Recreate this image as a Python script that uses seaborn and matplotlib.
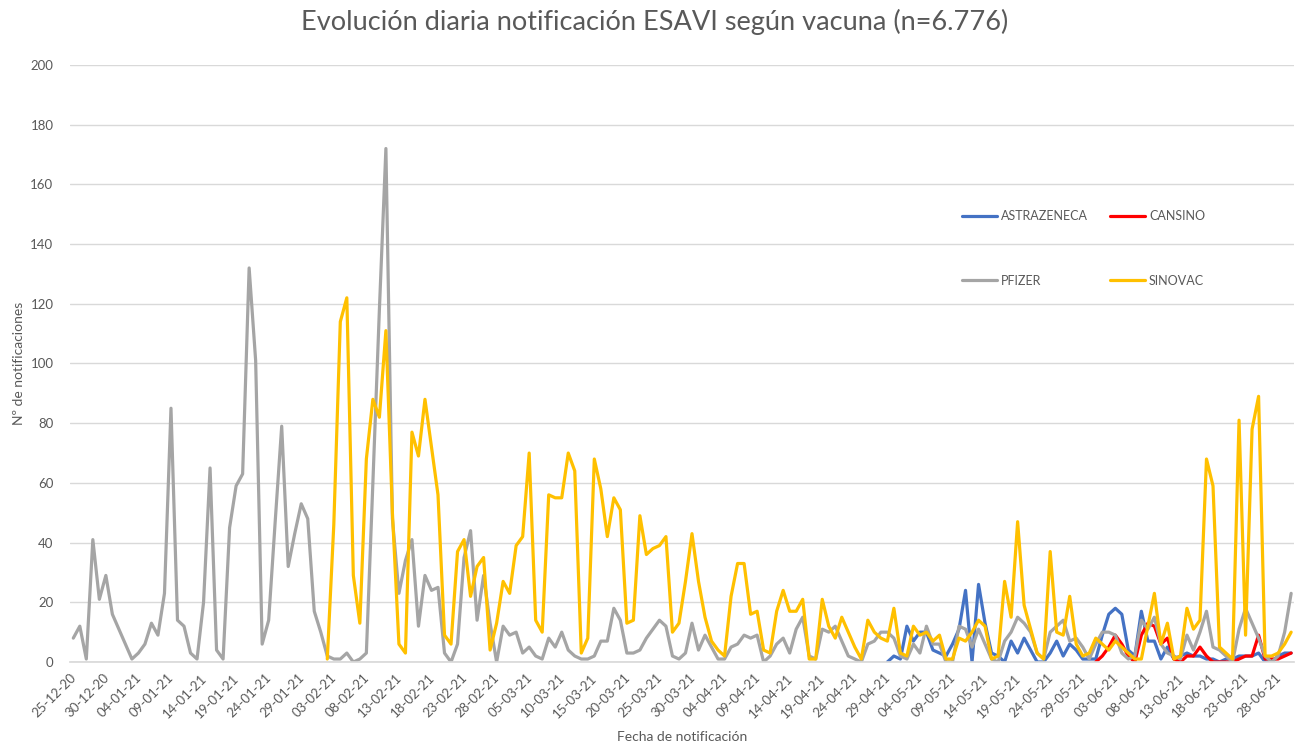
import numpy as np
import pandas as pd
import matplotlib.pyplot as plt
import seaborn as sns

# daily ESAVI notifications by vaccine, 25-12-2020 .. 30-06-2021
fechas = pd.date_range("2020-12-25", "2021-06-30", freq="D")

pfizer = [8, 12, 1, 41, 21, 29, 16, 11, 6, 1, 3, 6, 13, 9, 23, 85, 14, 12, 3, 1,
          20, 65, 4, 1, 45, 59, 63, 132, 101, 6, 14, 47, 79, 32, 43, 53, 48, 17, 10, 2,
          1, 1, 3, 0, 1, 3, 60, 118, 172, 48, 23, 34, 41, 12, 29, 24, 25, 3, 0, 6,
          35, 44, 14, 29, 13, 0, 12, 9, 10, 3, 5, 2, 1, 8, 5, 10, 4, 2, 1, 1,
          2, 7, 7, 18, 14, 3, 3, 4, 8, 11, 14, 12, 2, 1, 3, 13, 4, 9, 5, 1,
          1, 5, 6, 9, 8, 9, 0, 2, 6, 8, 3, 11, 15, 2, 1, 11, 10, 12, 7, 2,
          1, 0, 6, 7, 10, 10, 8, 2, 1, 6, 3, 12, 6, 6, 0, 0, 12, 11, 5, 11,
          6, 1, 0, 7, 10, 15, 13, 10, 3, 1, 10, 12, 14, 7, 8, 5, 1, 6, 10, 10,
          9, 3, 1, 2, 14, 11, 15, 6, 3, 2, 1, 9, 4, 10, 17, 5, 4, 2, 0, 11,
          18, 13, 8, 2, 0, 2, 10, 23]

# SINOVAC starts 02-02-2021 (day 39)
sinovac = [1, 46, 114, 122, 29, 13, 68, 88, 82, 111, 50, 6, 3, 77, 69, 88, 72, 56, 9, 6, 37,
           41, 22, 32, 35, 4, 13, 27, 23, 39, 42, 70, 14, 10, 56, 55, 55, 70, 64, 3, 8,
           68, 58, 42, 55, 51, 13, 14, 49, 36, 38, 39, 42, 10, 13, 27, 43, 27, 15, 7, 4,
           2, 22, 33, 33, 16, 17, 4, 3, 17, 24, 17, 17, 21, 1, 1, 21, 12, 8, 15, 10,
           5, 1, 14, 10, 8, 7, 18, 3, 2, 12, 9, 10, 7, 9, 1, 1, 8, 7, 10, 14,
           12, 1, 2, 27, 15, 47, 19, 11, 3, 1, 37, 10, 9, 22, 6, 2, 3, 8, 6, 4,
           7, 5, 3, 1, 1, 12, 23, 6, 13, 1, 2, 18, 11, 14, 68, 59, 5, 3, 1, 81,
           9, 78, 89, 2, 2, 3, 6, 10]

# ASTRAZENECA starts 29-04-2021 (day 125)
astrazeneca = [0, 2, 1, 12, 7, 10, 10, 4, 3, 2, 6, 11, 24, 0, 26,
               13, 3, 2, 0, 7, 3, 8, 4, 0, 0, 3, 7, 2, 6, 4, 1, 1, 1, 9, 16,
               18, 16, 4, 2, 17, 7, 7, 1, 5, 1, 2, 3, 2, 2, 1, 1, 0, 1, 1, 2,
               2, 2, 3, 0, 0, 2, 3, 3]

# CANSINO starts 31-05-2021 (day 157)
cansino = [0, 2, 5, 9, 6, 2, 0, 9, 13, 12, 6, 8, 1, 0, 2, 2, 5, 2, 0, 0,
           0, 0, 1, 2, 2, 9, 1, 1, 1, 2, 3]

vacunas = ["ASTRAZENECA", "CANSINO", "PFIZER", "SINOVAC"]
colores = ["#4472C4", "#FF0000", "#A5A5A5", "#FFC000"]

n = len(fechas)
series = {"ASTRAZENECA": astrazeneca, "CANSINO": cansino, "PFIZER": pfizer, "SINOVAC": sinovac}
frames = []
for v in vacunas:
    vals = series[v]
    start = n - len(vals)
    frames.append(pd.DataFrame({"dia": np.arange(start, n), "n": vals, "vacuna": v}))
df = pd.concat(frames, ignore_index=True)

sns.set_theme(style="white")
plt.rcParams["font.family"] = ["Lato", "DejaVu Sans"]
gris = "#595959"

fig = plt.figure(figsize=(12.97, 7.51), dpi=100)
ax = fig.add_axes([0.054, 0.1185, 0.944, 0.795])

sns.lineplot(data=df, x="dia", y="n", hue="vacuna", hue_order=vacunas,
             palette=colores, linewidth=2.3, ax=ax, legend=False)

ax.set_xlim(-0.5, n - 0.5)
ax.set_ylim(0, 200)
ax.set_yticks(range(0, 201, 20))
ax.yaxis.grid(True, color="#D9D9D9", linewidth=1)
ax.set_axisbelow(True)

pos = np.arange(0, n, 5)
ax.set_xticks(pos - 0.5)
ax.set_xticklabels([fechas[i].strftime("%d-%m-%y") for i in pos],
                   rotation=45, ha="right", rotation_mode="anchor")
ax.tick_params(axis="x", length=5, color="#D9D9D9", labelsize=9.5, labelcolor=gris, pad=2)
ax.tick_params(axis="y", length=0, labelsize=9.5, labelcolor=gris, pad=12)

for s in ["left", "top", "right"]:
    ax.spines[s].set_visible(False)
ax.spines["bottom"].set_color("#D9D9D9")

ax.set_xlabel("Fecha de notificación", fontsize=10, color=gris, labelpad=8)
ax.set_ylabel("Nº de notificaciones", fontsize=10, color=gris, labelpad=4)
fig.suptitle("Evolución diaria notificación ESAVI según vacuna (n=6.776)",
             fontsize=19.5, color=gris, x=0.505, y=0.988)

# legend filled row by row like the original
orden = [0, 2, 1, 3]
handles = [plt.Line2D([], [], color=colores[i], linewidth=2.3) for i in orden]
fig.legend(handles, [vacunas[i] for i in orden], loc="upper left", bbox_to_anchor=(0.733, 0.735),
           ncol=2, frameon=False, fontsize=9, labelcolor=gris,
           handlelength=2.8, handletextpad=0.3, columnspacing=1.8, labelspacing=4.2)

fig.savefig("out.png", dpi=100)
